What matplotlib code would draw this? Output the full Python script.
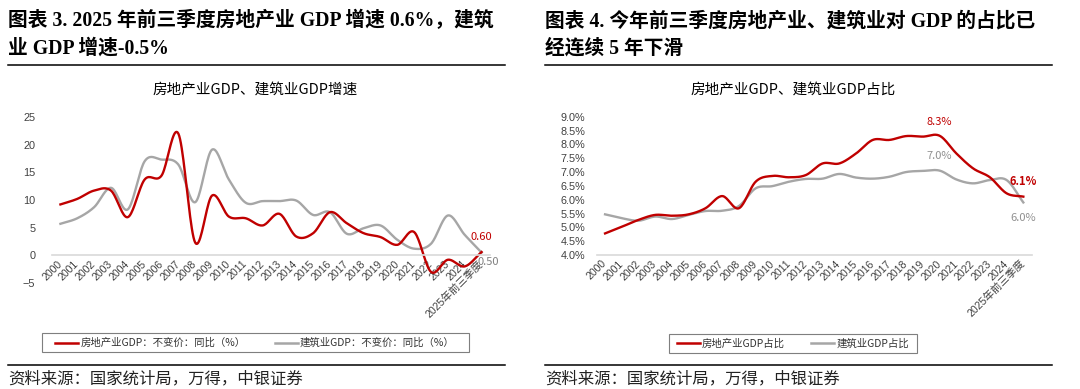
import numpy as np
import matplotlib
matplotlib.use('Agg')
import matplotlib.pyplot as plt
from matplotlib.lines import Line2D
from matplotlib.patches import Rectangle
from matplotlib.ticker import FuncFormatter

W, H = 1080, 389
CJK = ['Noto Sans CJK SC', 'DejaVu Sans']
SANS = ['Liberation Sans', 'Noto Sans CJK SC']
SERIF = ['Liberation Serif', 'Noto Sans CJK SC']
RED = '#C00000'
GREY = '#A6A6A6'

years = [str(y) for y in range(2000, 2025)] + ['2025年前三季度']

# 增速（%）
re_growth = [9.2, 10.2, 11.7, 11.7, 6.9, 13.7, 14.4, 22.0, 2.3, 10.8, 7.0, 6.7, 5.4,
             7.5, 3.4, 4.0, 7.8, 5.8, 4.0, 3.3, 1.9, 4.2, -3.0, -0.8, -2.0, 0.6]
con_growth = [5.7, 6.7, 8.7, 12.2, 8.3, 17.0, 17.3, 16.4, 9.6, 19.1, 13.7, 9.5, 9.8,
              9.8, 9.9, 7.3, 7.8, 3.9, 4.9, 5.4, 2.8, 1.2, 2.1, 7.2, 3.7, 0.5]

# 占比（%）
re_share = [4.78, 5.02, 5.27, 5.45, 5.42, 5.47, 5.69, 6.13, 5.69, 6.65, 6.86, 6.81, 6.89,
            7.31, 7.31, 7.67, 8.16, 8.16, 8.30, 8.28, 8.31, 7.67, 7.13, 6.81, 6.23, 6.11]
con_share = [5.47, 5.33, 5.24, 5.39, 5.30, 5.45, 5.59, 5.60, 5.77, 6.41, 6.49, 6.65, 6.75,
             6.76, 6.93, 6.80, 6.76, 6.83, 7.00, 7.04, 7.05, 6.73, 6.59, 6.71, 6.71, 5.90]

left_labels = ['房地产业GDP：不变价：同比（%）', '建筑业GDP：不变价：同比（%）']
right_labels = ['房地产业GDP占比', '建筑业GDP占比']


def px(x, y):
    return x / W, 1 - y / H


def smooth(vals, n=20):
    # Excel-style smoothed line (Catmull-Rom through the data points)
    v = np.asarray(vals, float)
    p = np.concatenate([[2 * v[0] - v[1]], v, [2 * v[-1] - v[-2]]])
    t = np.linspace(0, 1, n, endpoint=False)
    xs, ys = [], []
    for i in range(len(v) - 1):
        p0, p1, p2, p3 = p[i:i + 4]
        ys.append(0.5 * (2 * p1 + (-p0 + p2) * t + (2 * p0 - 5 * p1 + 4 * p2 - p3) * t ** 2
                         + (-p0 + 3 * p1 - 3 * p2 + p3) * t ** 3))
        xs.append(i + t)
    xs.append([len(v) - 1])
    ys.append([v[-1]])
    return np.concatenate(xs), np.concatenate(ys)


def style_axis(ax):
    for s in ['top', 'right', 'left']:
        ax.spines[s].set_visible(False)
    ax.spines['bottom'].set_color('#D9D9D9')
    ax.spines['bottom'].set_linewidth(1.2)
    ax.tick_params(length=0, colors='#404040')
    ax.set_xlim(-0.5, len(years) - 0.5)
    ax.set_xticks(range(len(years)))
    ax.set_xticklabels(years, rotation=45, ha='right', va='center',
                       rotation_mode='anchor', fontsize=7.6, family=SANS)
    for lab in ax.get_yticklabels():
        lab.set_family(SANS)
        lab.set_fontsize(7.8)


fig = plt.figure(figsize=(W / 100, H / 100), dpi=100)

# ---- left panel: growth ----
ax1 = fig.add_axes([52 / W, 1 - 283 / H, 438 / W, 166 / H])
ax1.plot(*smooth(con_growth), color=GREY, lw=1.7)
ax1.plot(*smooth(re_growth), color=RED, lw=1.7)
ax1.set_ylim(-5, 25)
ax1.set_yticks(range(-5, 30, 5))
ax1.spines['bottom'].set_position(('data', 0))
style_axis(ax1)
ax1.tick_params(axis='y', pad=12)
ax1.tick_params(axis='x', pad=5)
ax1.annotate('0.60', (25, re_growth[-1]), xytext=(0, 11), textcoords='offset points',
             ha='center', va='center', color=RED, fontsize=8, family=CJK)
ax1.annotate('0.50', (25, con_growth[-1]), xytext=(5, -6.5), textcoords='offset points',
             ha='center', va='center', color='#808080', fontsize=8, family=CJK)

# ---- right panel: share ----
ax2 = fig.add_axes([596.7 / W, 1 - 255 / H, 435 / W, 138.3 / H])
ax2.plot(*smooth(con_share), color=GREY, lw=1.7)
ax2.plot(*smooth(re_share), color=RED, lw=1.7)
ax2.set_ylim(4, 9)
ax2.set_yticks(np.arange(4, 9.01, 0.5))
ax2.yaxis.set_major_formatter(FuncFormatter(lambda v, _: f'{v:.1f}%'))
style_axis(ax2)
ax2.tick_params(axis='y', pad=8)
ax2.tick_params(axis='x', pad=5)
ax2.annotate('8.3%', (20, re_share[20]), xytext=(0, 10), textcoords='offset points',
             ha='center', va='center', color=RED, fontsize=8, family=CJK)
ax2.annotate('7.0%', (20, con_share[20]), xytext=(0, 10.5), textcoords='offset points',
             ha='center', va='center', color='#909090', fontsize=8, family=CJK)
ax2.annotate('6.1%', (25, re_share[-1]), xytext=(0, 11.2), textcoords='offset points',
             ha='center', va='center', color=RED, fontsize=8, family=CJK, weight='bold')
ax2.annotate('6.0%', (25, con_share[-1]), xytext=(0, -11.2), textcoords='offset points',
             ha='center', va='center', color='#909090', fontsize=8, family=CJK)

# ---- titles, rules, sources ----
tkw = dict(family=SERIF, weight='bold', fontsize=14.2, va='center')
fig.text(*px(8, 21), '图表 3. 2025 年前三季度房地产业 GDP 增速 0.6%，建筑', **tkw)
fig.text(*px(8, 49), '业 GDP 增速-0.5%', **tkw)
fig.text(*px(545, 21), '图表 4. 今年前三季度房地产业、建筑业对 GDP 的占比已', **tkw)
fig.text(*px(545, 49), '经连续 5 年下滑', **tkw)

fig.text(*px(255, 90), '房地产业GDP、建筑业GDP增速', family=CJK, fontsize=10.5,
         ha='center', va='center')
fig.text(*px(793, 90), '房地产业GDP、建筑业GDP占比', family=CJK, fontsize=10.5,
         ha='center', va='center')

for x0, x1 in [(8, 505), (545, 1052)]:
    for y in (65, 364.5):
        fig.add_artist(Line2D([x0 / W, x1 / W], [1 - y / H] * 2, color='black', lw=1.1))
    fig.text(*px(x0, 379), '资料来源：国家统计局，万得，中银证券', family=CJK,
             fontsize=11.8, va='center', color='#222222')

# ---- legends ----
handles = [Line2D([], [], color=RED, lw=1.8), Line2D([], [], color=GREY, lw=1.8)]
fig.legend(handles, left_labels, loc='center', bbox_to_anchor=px(255, 343), ncol=2,
           frameon=False, prop={'family': CJK, 'size': 7.5}, handlelength=2.2,
           handletextpad=0.2, columnspacing=2.8, labelcolor='#333333')
fig.add_artist(Rectangle(px(42, 352), 427 / W, 19 / H, transform=fig.transFigure,
                         fill=False, ec='#7F7F7F', lw=0.8))
fig.legend(handles, right_labels, loc='center', bbox_to_anchor=px(793, 343.5), ncol=2,
           frameon=False, prop={'family': CJK, 'size': 7.5}, handlelength=2.2,
           handletextpad=0.2, columnspacing=2.5, labelcolor='#333333')
fig.add_artist(Rectangle(px(669, 353), 248 / W, 19 / H, transform=fig.transFigure,
                         fill=False, ec='#7F7F7F', lw=0.8))

fig.savefig('out.png', dpi=100)
